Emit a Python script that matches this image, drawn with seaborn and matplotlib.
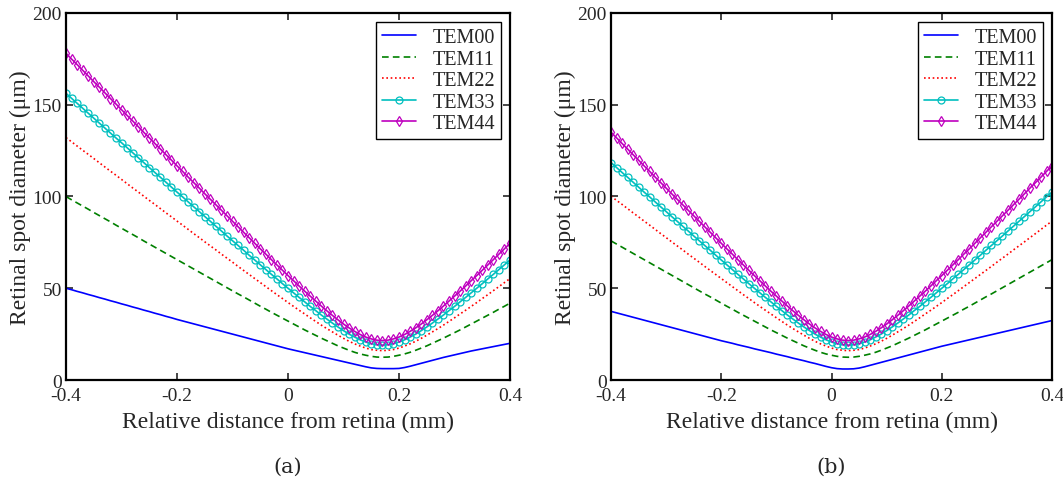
import numpy as np
import pandas as pd
import matplotlib
matplotlib.use("Agg")
import matplotlib.pyplot as plt
import seaborn as sns

# relative distance from retina (mm), one sample every 0.01 mm
distance = np.round(np.arange(-0.40, 0.4001, 0.01), 2)

modes = ["TEM00", "TEM11", "TEM22", "TEM33", "TEM44"]

# panel (a): focus behind the retina
tem00_a = [50.0, 49.2, 48.3, 47.5, 46.6, 45.8, 44.9, 44.1, 43.2, 42.4,
           41.5, 40.7, 39.8, 39.0, 38.1, 37.3, 36.4, 35.6, 34.7, 33.9,
           33.0, 32.2, 31.4, 30.6, 29.8, 29.0, 28.2, 27.4, 26.6, 25.8,
           25.0, 24.2, 23.4, 22.6, 21.8, 21.0, 20.2, 19.4, 18.6, 17.8,
           17.0, 16.3, 15.6, 14.9, 14.2, 13.5, 12.8, 12.1, 11.4, 10.7,
           10.0, 9.3, 8.6, 7.9, 7.2, 6.6, 6.3, 6.2, 6.2, 6.2,
           6.3, 6.8, 7.5, 8.3, 9.1, 9.9, 10.7, 11.5, 12.3, 13.0,
           13.7, 14.4, 15.1, 15.8, 16.4, 17.0, 17.6, 18.2, 18.8, 19.4,
           20.0]
tem11_a = [100.0, 98.2, 96.5, 94.8, 93.1, 91.3, 89.6, 87.9, 86.2, 84.4,
           82.7, 81.0, 79.3, 77.6, 75.8, 74.1, 72.4, 70.7, 69.0, 67.3,
           65.6, 63.9, 62.2, 60.5, 58.8, 57.1, 55.4, 53.7, 52.0, 50.3,
           48.6, 46.9, 45.3, 43.6, 41.9, 40.2, 38.6, 36.9, 35.3, 33.7,
           32.1, 30.5, 28.9, 27.3, 25.8, 24.3, 22.8, 21.4, 20.0, 18.6,
           17.4, 16.2, 15.1, 14.2, 13.5, 12.9, 12.5, 12.4, 12.5, 12.9,
           13.5, 14.2, 15.1, 16.2, 17.4, 18.6, 20.0, 21.4, 22.8, 24.3,
           25.8, 27.3, 28.9, 30.5, 32.1, 33.7, 35.3, 36.9, 38.6, 40.2,
           41.9]
tem22_a = [132.1, 129.8, 127.5, 125.2, 123.0, 120.7, 118.4, 116.1, 113.8, 111.6,
           109.3, 107.0, 104.7, 102.5, 100.2, 97.9, 95.7, 93.4, 91.1, 88.9,
           86.6, 84.4, 82.1, 79.8, 77.6, 75.3, 73.1, 70.9, 68.6, 66.4,
           64.2, 61.9, 59.7, 57.5, 55.3, 53.1, 50.9, 48.7, 46.5, 44.4,
           42.2, 40.1, 38.0, 36.0, 33.9, 31.9, 29.9, 28.0, 26.2, 24.4,
           22.7, 21.1, 19.7, 18.5, 17.4, 16.6, 16.2, 16.0, 16.2, 16.6,
           17.4, 18.5, 19.7, 21.1, 22.7, 24.4, 26.2, 28.0, 29.9, 31.9,
           33.9, 36.0, 38.0, 40.1, 42.2, 44.4, 46.5, 48.7, 50.9, 53.1,
           55.3]
tem33_a = [156.2, 153.5, 150.8, 148.1, 145.4, 142.7, 140.0, 137.3, 134.6, 131.9,
           129.3, 126.6, 123.9, 121.2, 118.5, 115.8, 113.1, 110.5, 107.8, 105.1,
           102.4, 99.8, 97.1, 94.4, 91.8, 89.1, 86.5, 83.8, 81.2, 78.5,
           75.9, 73.3, 70.7, 68.0, 65.4, 62.8, 60.2, 57.6, 55.1, 52.5,
           50.0, 47.5, 45.0, 42.6, 40.1, 37.8, 35.4, 33.2, 31.0, 28.9,
           26.9, 25.0, 23.4, 21.9, 20.7, 19.8, 19.2, 19.0, 19.2, 19.8,
           20.7, 21.9, 23.4, 25.0, 26.9, 28.9, 31.0, 33.2, 35.4, 37.8,
           40.1, 42.6, 45.0, 47.5, 50.0, 52.5, 55.1, 57.6, 60.2, 62.8,
           65.4]
tem44_a = [178.0, 174.9, 171.9, 168.8, 165.7, 162.6, 159.6, 156.5, 153.4, 150.4,
           147.3, 144.2, 141.2, 138.1, 135.0, 132.0, 128.9, 125.9, 122.8, 119.8,
           116.7, 113.7, 110.6, 107.6, 104.6, 101.5, 98.5, 95.5, 92.5, 89.5,
           86.5, 83.5, 80.5, 77.5, 74.5, 71.5, 68.6, 65.6, 62.7, 59.8,
           56.9, 54.1, 51.2, 48.4, 45.7, 43.0, 40.3, 37.7, 35.2, 32.8,
           30.5, 28.4, 26.5, 24.8, 23.4, 22.4, 21.7, 21.5, 21.7, 22.4,
           23.4, 24.8, 26.5, 28.4, 30.5, 32.8, 35.2, 37.7, 40.3, 43.0,
           45.7, 48.4, 51.2, 54.1, 56.9, 59.8, 62.7, 65.6, 68.6, 71.5,
           74.5]

# panel (b): focus close to the retina
tem00_b = [37.4, 36.6, 35.8, 35.0, 34.2, 33.4, 32.6, 31.8, 31.0, 30.2,
           29.4, 28.6, 27.8, 27.0, 26.2, 25.4, 24.6, 23.8, 23.0, 22.2,
           21.4, 20.7, 20.0, 19.2, 18.5, 17.8, 17.0, 16.3, 15.6, 14.9,
           14.1, 13.4, 12.7, 11.9, 11.2, 10.5, 9.7, 9.0, 8.2, 7.4,
           6.7, 6.2, 6.0, 6.0, 6.1, 6.5, 7.2, 8.0, 8.8, 9.6,
           10.4, 11.2, 12.0, 12.8, 13.6, 14.4, 15.2, 16.0, 16.8, 17.6,
           18.4, 19.1, 19.8, 20.5, 21.2, 21.9, 22.6, 23.3, 24.0, 24.7,
           25.4, 26.1, 26.8, 27.5, 28.2, 28.9, 29.6, 30.3, 31.0, 31.7,
           32.4]
tem11_b = [75.8, 74.1, 72.4, 70.7, 69.0, 67.3, 65.6, 63.9, 62.2, 60.5,
           58.8, 57.1, 55.4, 53.7, 52.0, 50.3, 48.6, 46.9, 45.3, 43.6,
           41.9, 40.2, 38.6, 36.9, 35.3, 33.7, 32.1, 30.5, 28.9, 27.3,
           25.8, 24.3, 22.8, 21.4, 20.0, 18.6, 17.4, 16.2, 15.1, 14.2,
           13.5, 12.9, 12.5, 12.4, 12.5, 12.9, 13.5, 14.2, 15.1, 16.2,
           17.4, 18.6, 20.0, 21.4, 22.8, 24.3, 25.8, 27.3, 28.9, 30.5,
           32.1, 33.7, 35.3, 36.9, 38.6, 40.2, 41.9, 43.6, 45.3, 46.9,
           48.6, 50.3, 52.0, 53.7, 55.4, 57.1, 58.8, 60.5, 62.2, 63.9,
           65.6]
tem22_b = [100.2, 97.9, 95.7, 93.4, 91.1, 88.9, 86.6, 84.4, 82.1, 79.8,
           77.6, 75.3, 73.1, 70.9, 68.6, 66.4, 64.2, 61.9, 59.7, 57.5,
           55.3, 53.1, 50.9, 48.7, 46.5, 44.4, 42.2, 40.1, 38.0, 36.0,
           33.9, 31.9, 29.9, 28.0, 26.2, 24.4, 22.7, 21.1, 19.7, 18.5,
           17.4, 16.6, 16.2, 16.0, 16.2, 16.6, 17.4, 18.5, 19.7, 21.1,
           22.7, 24.4, 26.2, 28.0, 29.9, 31.9, 33.9, 36.0, 38.0, 40.1,
           42.2, 44.4, 46.5, 48.7, 50.9, 53.1, 55.3, 57.5, 59.7, 61.9,
           64.2, 66.4, 68.6, 70.9, 73.1, 75.3, 77.6, 79.8, 82.1, 84.4,
           86.6]
tem33_b = [118.5, 115.8, 113.1, 110.5, 107.8, 105.1, 102.4, 99.8, 97.1, 94.4,
           91.8, 89.1, 86.5, 83.8, 81.2, 78.5, 75.9, 73.3, 70.7, 68.0,
           65.4, 62.8, 60.2, 57.6, 55.1, 52.5, 50.0, 47.5, 45.0, 42.6,
           40.1, 37.8, 35.4, 33.2, 31.0, 28.9, 26.9, 25.0, 23.4, 21.9,
           20.7, 19.8, 19.2, 19.0, 19.2, 19.8, 20.7, 21.9, 23.4, 25.0,
           26.9, 28.9, 31.0, 33.2, 35.4, 37.8, 40.1, 42.6, 45.0, 47.5,
           50.0, 52.5, 55.1, 57.6, 60.2, 62.8, 65.4, 68.0, 70.7, 73.3,
           75.9, 78.5, 81.2, 83.8, 86.5, 89.1, 91.8, 94.4, 97.1, 99.8,
           102.4]
tem44_b = [135.0, 132.0, 128.9, 125.9, 122.8, 119.8, 116.7, 113.7, 110.6, 107.6,
           104.6, 101.5, 98.5, 95.5, 92.5, 89.5, 86.5, 83.5, 80.5, 77.5,
           74.5, 71.5, 68.6, 65.6, 62.7, 59.8, 56.9, 54.1, 51.2, 48.4,
           45.7, 43.0, 40.3, 37.7, 35.2, 32.8, 30.5, 28.4, 26.5, 24.8,
           23.4, 22.4, 21.7, 21.5, 21.7, 22.4, 23.4, 24.8, 26.5, 28.4,
           30.5, 32.8, 35.2, 37.7, 40.3, 43.0, 45.7, 48.4, 51.2, 54.1,
           56.9, 59.8, 62.7, 65.6, 68.6, 71.5, 74.5, 77.5, 80.5, 83.5,
           86.5, 89.5, 92.5, 95.5, 98.5, 101.5, 104.6, 107.6, 110.6, 113.7,
           116.7]

x_ticks = [-0.4, -0.2, 0, 0.2, 0.4]
x_ticklabels = ["-0.4", "-0.2", "0", "0.2", "0.4"]
y_ticks = [0, 50, 100, 150, 200]
panel_labels = ["(a)", "(b)"]

colors = ["#0000ff", "#008000", "#ff0000", "#00bfbf", "#bf00bf"]
styles = ["-", (0, (4, 2.5)), (0, (1, 1.6)), "-", "-"]
markers = [None, None, None, "o", "d"]

sns.set_style("ticks")
plt.rcParams["font.family"] = ["Liberation Serif", "DejaVu Serif"]

fig = plt.figure(figsize=(10.63, 4.81), dpi=100)
ax_a = fig.add_axes([0.0621, 0.2079, 0.4177, 0.763])
ax_b = fig.add_axes([0.5748, 0.2079, 0.4149, 0.763])

panels = [(ax_a, [tem00_a, tem11_a, tem22_a, tem33_a, tem44_a]),
          (ax_b, [tem00_b, tem11_b, tem22_b, tem33_b, tem44_b])]

for (ax, series), tag in zip(panels, panel_labels):
    for name, vals, c, ls, mk in zip(modes, series, colors, styles, markers):
        df = pd.DataFrame({"distance": distance, "diameter": vals})
        kw = dict(marker=mk, markersize=5, markerfacecolor="none",
                  markeredgecolor=c, markeredgewidth=0.9) if mk else {}
        sns.lineplot(data=df, x="distance", y="diameter", ax=ax, color=c,
                     linestyle=ls, linewidth=1.2, label=name, **kw)
    ax.set_xlim(-0.4, 0.4)
    ax.set_ylim(0, 200)
    ax.set_xticks(x_ticks)
    ax.set_xticklabels(x_ticklabels)
    ax.set_yticks(y_ticks)
    ax.tick_params(direction="in", top=True, right=True, length=5, width=1.2,
                   labelsize=14, pad=3)
    ax.tick_params(axis="x", pad=5)
    for sp in ax.spines.values():
        sp.set_visible(True)
        sp.set_linewidth(1.6)
        sp.set_color("black")
    ax.set_xlabel("Relative distance from retina (mm)", fontsize=17, labelpad=5)
    ax.set_ylabel("Retinal spot diameter (\u03bcm)", fontsize=17, labelpad=1)
    leg = ax.legend(loc="upper right", fontsize=14.5, frameon=True, fancybox=False,
                    framealpha=1, edgecolor="black", handlelength=1.7,
                    handletextpad=0.8, borderaxespad=0.45, labelspacing=0.12,
                    borderpad=0.3)
    leg.get_frame().set_linewidth(1.0)
    ax.text(0.5, -0.234, tag, transform=ax.transAxes, ha="center", va="center",
            fontsize=15, family=["DejaVu Serif"])

fig.savefig("out.png", dpi=100)
